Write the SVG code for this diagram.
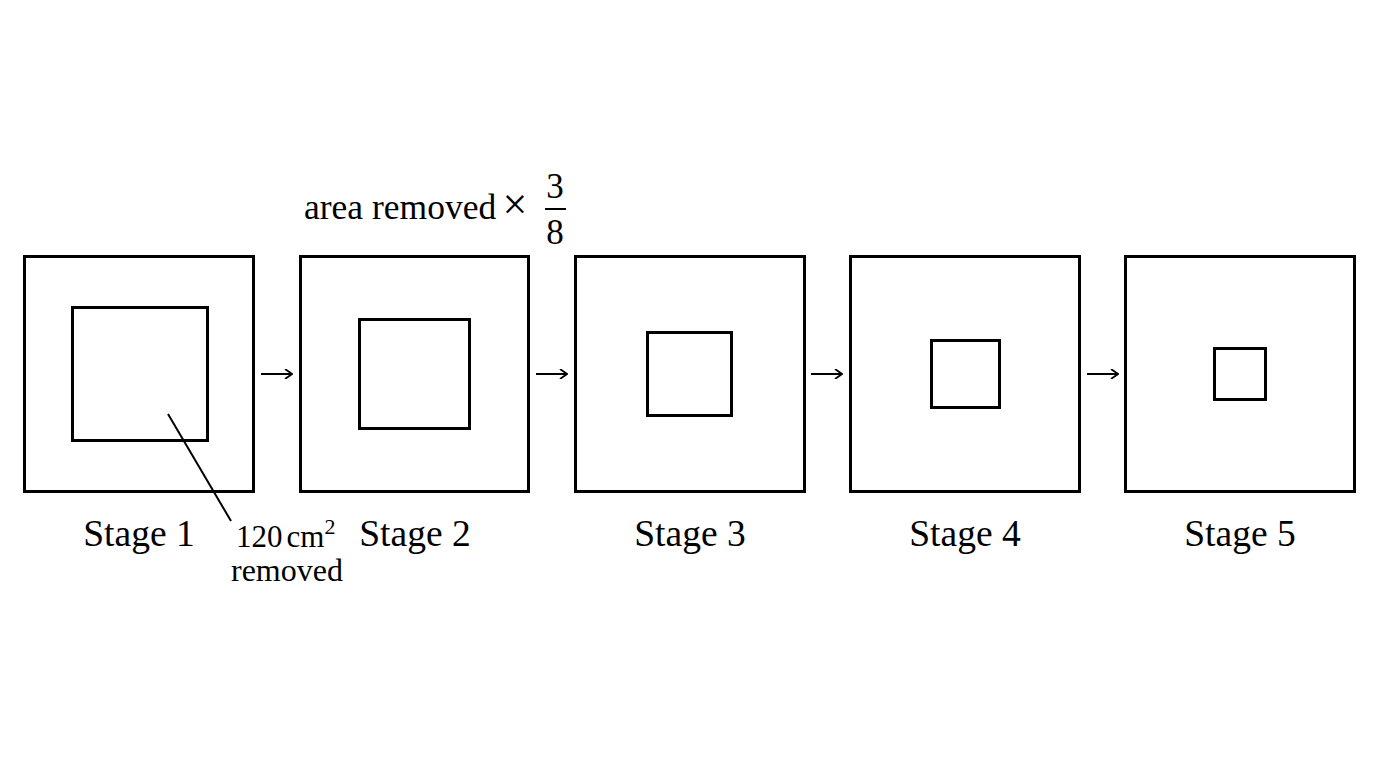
<svg xmlns="http://www.w3.org/2000/svg" width="1376" height="768" viewBox="0 0 1376 768">
<style>
.box{fill:none;stroke:#000;stroke-width:3}
.t{font-family:"Liberation Serif","Times New Roman",serif;fill:#000}
.lbl{font-size:37.5px;text-anchor:middle}
.ln{stroke:#000;stroke-width:2;fill:none}
</style>
<defs>
<marker id="ah" markerWidth="10" markerHeight="10" refX="9" refY="5" orient="auto" markerUnits="userSpaceOnUse">
<path d="M2,0 L9,5 L2,10" fill="none" stroke="#000" stroke-width="1.8"/>
</marker>
</defs>
<rect width="1376" height="768" fill="#fff"/>
<g id="stage1">
<rect class="box" x="24.5" y="256.5" width="229" height="235"/>
<rect class="box" x="72.5" y="307.5" width="135" height="133"/>
<text class="t lbl" x="139" y="546">Stage 1</text>
</g>
<g id="stage2">
<rect class="box" x="300.5" y="256.5" width="228" height="235"/>
<rect class="box" x="359.5" y="319.5" width="110" height="109"/>
<text class="t lbl" x="415" y="546">Stage 2</text>
</g>
<g id="stage3">
<rect class="box" x="575.5" y="256.5" width="229" height="235"/>
<rect class="box" x="647.5" y="332.5" width="84" height="83"/>
<text class="t lbl" x="690" y="546">Stage 3</text>
</g>
<g id="stage4">
<rect class="box" x="850.5" y="256.5" width="229" height="235"/>
<rect class="box" x="931.5" y="340.5" width="68" height="67"/>
<text class="t lbl" x="965" y="546">Stage 4</text>
</g>
<g id="stage5">
<rect class="box" x="1125.5" y="256.5" width="229" height="235"/>
<rect class="box" x="1214.5" y="348.5" width="51" height="51"/>
<text class="t lbl" x="1240" y="546">Stage 5</text>
</g>
<g id="annotation">
<text class="t" x="304" y="219" font-size="35.5">area removed</text>
<text class="t" x="515" y="219" font-size="44" text-anchor="middle">×</text>
<text class="t" x="555" y="198" font-size="35" text-anchor="middle">3</text>
<line class="ln" x1="545" y1="209" x2="566" y2="209" stroke-width="1.5"/>
<text class="t" x="555" y="244" font-size="35" text-anchor="middle">8</text>
<text class="t" x="236" y="547" font-size="31">120<tspan dx="4">cm</tspan><tspan font-size="22" dy="-13">2</tspan></text>
<text class="t" x="231" y="581" font-size="32">removed</text>
</g>
<g id="connectors">
<line class="ln" x1="168" y1="414" x2="231" y2="521" stroke-width="1.5"/>
<line class="ln" x1="261" y1="374" x2="292" y2="374" stroke-width="1.8" marker-end="url(#ah)"/>
<line class="ln" x1="536" y1="374" x2="567" y2="374" stroke-width="1.8" marker-end="url(#ah)"/>
<line class="ln" x1="811" y1="374" x2="842" y2="374" stroke-width="1.8" marker-end="url(#ah)"/>
<line class="ln" x1="1087" y1="374" x2="1118" y2="374" stroke-width="1.8" marker-end="url(#ah)"/>
</g>
</svg>
